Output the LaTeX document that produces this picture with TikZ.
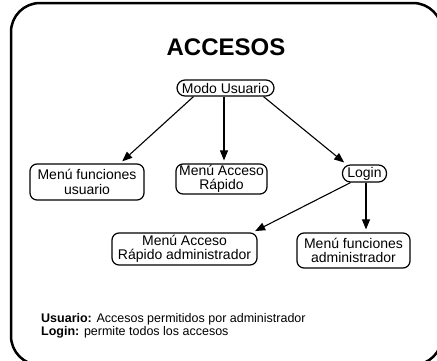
\documentclass[tikz,border=0pt]{standalone}
\usepackage{fontspec}
\setmainfont{Liberation Sans}
\usetikzlibrary{arrows.meta}
\begin{document}
\begin{tikzpicture}[x=1pt,y=-1pt,
  box/.style={draw,line width=1.2pt,rounded corners=7pt,inner sep=0pt,align=center,
    font=\fontsize{14}{14.5}\selectfont},
  pill/.style={draw,line width=1.2pt,rounded corners=8pt,inner sep=0pt,align=center,
    font=\fontsize{14}{14.5}\selectfont},
  arr/.style={line width=1.1pt,-{Triangle[length=10pt,width=8pt]},shorten >=3pt}]
\useasboundingbox (0,0) rectangle (437,360);
\draw[line width=2.5pt,rounded corners=29pt] (11,3) rectangle (442,365);
\node[font=\fontsize{24}{24}\selectfont\bfseries,anchor=base] (title) at (226,55) {ACCESOS};
\node[pill,minimum width=97pt,minimum height=16pt] (mu) at (225.5,88) {Modo Usuario};
\node[box,minimum width=114pt,minimum height=36pt] (mfu) at (87,182) {Menú funciones\\usuario};
\node[box,minimum width=91pt,minimum height=30pt] (mar) at (221.5,179) {Menú Acceso\\Rápido};
\node[pill,minimum width=44pt,minimum height=17pt] (login) at (364.5,173.5) {Login};
\node[box,minimum width=145pt,minimum height=32pt] (mara) at (184.5,249) {Menú Acceso\\Rápido administrador};
\node[box,minimum width=113pt,minimum height=35pt] (mfa) at (353.5,250.5) {Menú funciones\\administrador};
\draw[arr] ([xshift=-32pt]mu.south) -- ([xshift=33pt]mfu.north);
\draw[arr] ([xshift=-1.5pt]mu.south) -- ([xshift=2.5pt]mar.north);
\draw[arr] ([xshift=38pt]mu.south) -- ([xshift=-18pt]login.north);
\draw[arr] ([xshift=-14pt]login.south) -- ([xshift=68pt]mara.north);
\draw[arr] ([xshift=1.5pt]login.south) -- ([xshift=12.5pt]mfa.north);
\node[anchor=base west,align=left,font=\fontsize{12.5}{13}\selectfont,inner sep=0pt] (legend) at (41,335)
  {\textbf{Usuario:} Accesos permitidos por administrador\\\textbf{Login:} permite todos los accesos};
\end{tikzpicture}
\end{document}
